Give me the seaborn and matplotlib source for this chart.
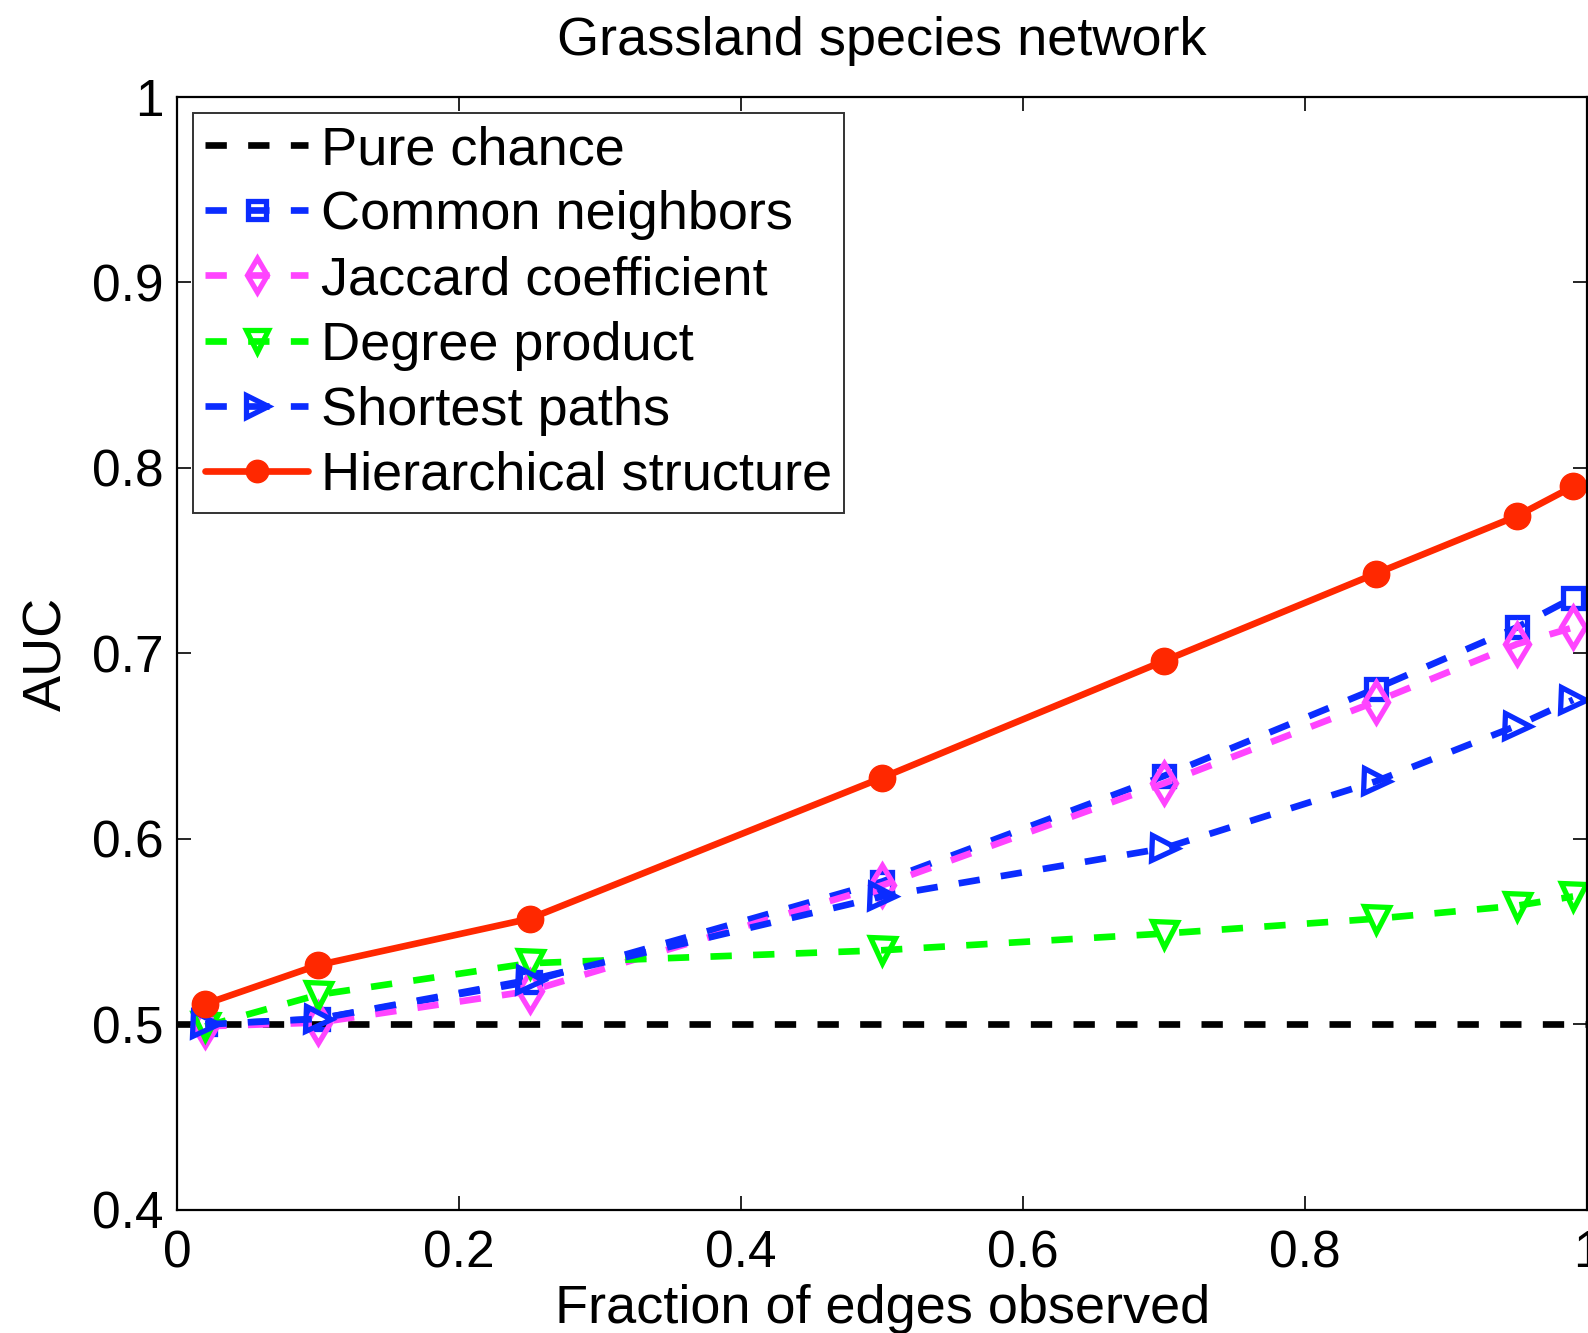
import numpy as np
import pandas as pd
import seaborn as sns
import matplotlib
matplotlib.use("Agg")
import matplotlib.pyplot as plt

# Fraction of observed edges at which each predictor was evaluated
fractions = [0.02, 0.10, 0.25, 0.50, 0.70, 0.85, 0.95, 0.99]

# AUC scores per link-prediction method
chance_x = [0.0, 1.0]
chance_y = [0.5, 0.5]
common_neighbors = [0.500, 0.503, 0.523, 0.577, 0.634, 0.681, 0.714, 0.730]
jaccard = [0.499, 0.501, 0.518, 0.575, 0.630, 0.674, 0.705, 0.714]
degree_product = [0.499, 0.516, 0.533, 0.540, 0.549, 0.557, 0.564, 0.569]
shortest_paths = [0.500, 0.503, 0.524, 0.569, 0.595, 0.631, 0.661, 0.675]
hierarchical = [0.511, 0.532, 0.557, 0.633, 0.696, 0.743, 0.774, 0.790]

labels = ["Pure chance", "Common neighbors", "Jaccard coefficient",
          "Degree product", "Shortest paths", "Hierarchical structure"]

xtick_vals = [0, 0.2, 0.4, 0.6, 0.8, 1.0]
xtick_labels = ["0", "0.2", "0.4", "0.6", "0.8", "1"]
ytick_vals = [0.4, 0.5, 0.6, 0.7, 0.8, 0.9, 1.0]
ytick_labels = ["0.4", "0.5", "0.6", "0.7", "0.8", "0.9", "1"]

sns.set_theme(style="white")
plt.rcParams["font.family"] = ["Liberation Sans", "DejaVu Sans"]
plt.rcParams["text.color"] = "black"
plt.rcParams["axes.labelcolor"] = "black"

fig = plt.figure(figsize=(15.88, 13.33), dpi=100)
ax = fig.add_axes([0.1115, 0.0923, 0.888, 0.8350])

BLUE = "#0b2cff"
PINK = "#ff44ff"
GREEN = "#00ff00"
RED = "#ff2800"
LW = 4.8
DASH = (0, (3.2, 3.2))

df_chance = pd.DataFrame({"x": chance_x, "y": chance_y})
sns.lineplot(data=df_chance, x="x", y="y", ax=ax, color="black", lw=LW,
             linestyle=DASH, label=labels[0])

series = [
    (common_neighbors, BLUE, "s", 15, labels[1]),
    (jaccard, PINK, "d", 20, labels[2]),
    (degree_product, GREEN, "v", 18, labels[3]),
    (shortest_paths, BLUE, ">", 18, labels[4]),
]
for vals, col, mk, ms, lab in series:
    df = pd.DataFrame({"x": fractions, "y": vals})
    sns.lineplot(data=df, x="x", y="y", ax=ax, color=col, lw=LW,
                 linestyle=DASH, marker=mk, markersize=ms,
                 markerfacecolor="none", markeredgecolor=col,
                 markeredgewidth=3.8, label=lab, clip_on=False)

df_h = pd.DataFrame({"x": fractions, "y": hierarchical})
sns.lineplot(data=df_h, x="x", y="y", ax=ax, color=RED, lw=LW,
             marker="o", markersize=19, markerfacecolor=RED,
             markeredgecolor=RED, markeredgewidth=1, label=labels[5],
             clip_on=False)

ax.set_xlim(0, 1)
ax.set_ylim(0.4, 1.0)
ax.set_xticks(xtick_vals)
ax.set_xticklabels(xtick_labels)
ax.set_yticks(ytick_vals)
ax.set_yticklabels(ytick_labels)
ax.tick_params(axis="both", which="both", direction="in", length=10,
               width=1.2, labelsize=37, colors="black",
               top=True, right=True, bottom=True, left=True)
ax.tick_params(axis="x", pad=14)
ax.tick_params(axis="y", pad=10)
for sp in ax.spines.values():
    sp.set_color("black")
    sp.set_linewidth(1.6)

ax.set_xlabel("Fraction of edges observed", fontsize=39, labelpad=4)
ax.set_ylabel("AUC", fontsize=39, labelpad=14)
ax.set_title("Grassland species network", fontsize=39, pad=30)

leg = ax.legend(loc="upper left", fontsize=39, frameon=True, fancybox=False,
                edgecolor="black", handlelength=1.9, handletextpad=0.24,
                borderpad=0.22, labelspacing=0.28, borderaxespad=0.3,
                markerscale=0.85)
leg.get_frame().set_linewidth(1.4)

fig.savefig("out.png", dpi=100)
